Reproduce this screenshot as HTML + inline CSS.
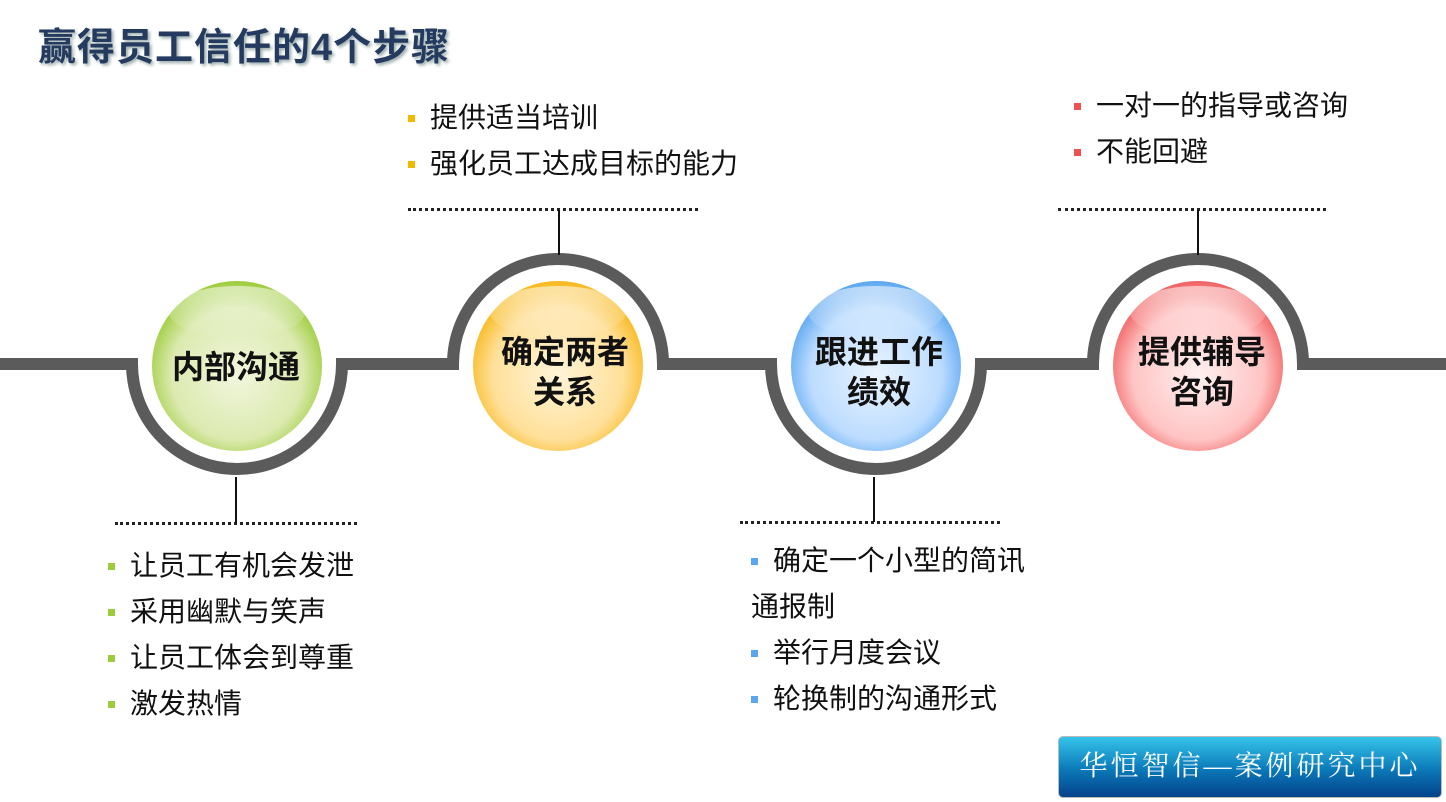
<!DOCTYPE html>
<html><head><meta charset="utf-8"><style>
body{margin:0;width:1446px;height:802px;background:#fff;position:relative;overflow:hidden;font-family:"Liberation Sans","Noto Sans CJK SC",sans-serif}
.t{position:absolute;left:38px;top:16px;font-size:38px;font-weight:bold;color:#243a5e;text-shadow:2px 2px 3px #9aa;letter-spacing:1px}
.l{position:absolute;font-size:28px;color:#111;line-height:46px}
.l div{position:relative;padding-left:22px;white-space:nowrap}
.l div:before{content:"";position:absolute;left:0;top:20px;width:7px;height:7px;background:var(--c)}
.l div.n:before{display:none}
.d{position:absolute;border-top:3px dotted #222;height:0}
.s{position:absolute;width:2px;background:#111}
.c{position:absolute;font-size:32px;font-weight:bold;color:#111;text-align:center;line-height:40px;width:180px}
.badge{position:absolute;left:1058px;top:736px;width:382px;height:60px;border-radius:5px;background:linear-gradient(#35c4ea,#0a78b8 55%,#05428a);border:1px solid #bbb;color:#fff;font-family:"Liberation Serif","Noto Serif CJK SC",serif;font-size:28px;text-align:center;line-height:60px;letter-spacing:3px}
</style></head><body>
<div class="t">赢得员工信任的4个步骤</div>
<svg width="1446" height="802" style="position:absolute;left:0;top:0">
<defs>
<radialGradient id="g" cx="50%" cy="55%" r="55%"><stop offset="0" stop-color="#f1f6dd"/><stop offset="0.7" stop-color="#dceab0"/><stop offset="1" stop-color="#9ccc3a"/></radialGradient>
<radialGradient id="o" cx="50%" cy="55%" r="55%"><stop offset="0" stop-color="#fff4d8"/><stop offset="0.7" stop-color="#ffe09a"/><stop offset="1" stop-color="#f7b81a"/></radialGradient>
<radialGradient id="b" cx="50%" cy="55%" r="55%"><stop offset="0" stop-color="#eaf4ff"/><stop offset="0.7" stop-color="#bcdcff"/><stop offset="1" stop-color="#5aa6f0"/></radialGradient>
<radialGradient id="r" cx="50%" cy="55%" r="55%"><stop offset="0" stop-color="#fff0f0"/><stop offset="0.7" stop-color="#ffc4c4"/><stop offset="1" stop-color="#f06060"/></radialGradient>
<linearGradient id="h" x1="0" y1="0" x2="0" y2="1"><stop offset="0" stop-color="#fff" stop-opacity=".9"/><stop offset="1" stop-color="#fff" stop-opacity="0"/></linearGradient>
</defs>
<path d="M0 364 H132 A105 105 0 0 0 342 364 H453 A105 105 0 0 1 663 364 H771 A105 105 0 0 0 981 364 H1093 A105 105 0 0 1 1303 364 H1446" fill="none" stroke="#5b5b5b" stroke-width="12"/>
<circle cx="237" cy="366" r="85" fill="url(#g)"/><ellipse cx="237" cy="312" rx="68" ry="26" fill="url(#h)" opacity=".6"/>
<circle cx="558" cy="366" r="85" fill="url(#o)"/><ellipse cx="558" cy="312" rx="68" ry="26" fill="url(#h)" opacity=".6"/>
<circle cx="876" cy="366" r="85" fill="url(#b)"/><ellipse cx="876" cy="312" rx="68" ry="26" fill="url(#h)" opacity=".6"/>
<circle cx="1198" cy="366" r="85" fill="url(#r)"/><ellipse cx="1198" cy="312" rx="68" ry="26" fill="url(#h)" opacity=".6"/>
</svg>
<div class="c" style="left:146px;top:347px">内部沟通</div>
<div class="c" style="left:475px;top:332px">确定两者<br>关系</div>
<div class="c" style="left:789px;top:332px">跟进工作<br>绩效</div>
<div class="c" style="left:1112px;top:332px">提供辅导<br>咨询</div>
<div class="d" style="left:408px;top:208px;width:290px"></div><div class="s" style="left:558px;top:210px;height:45px"></div>
<div class="d" style="left:1058px;top:208px;width:268px"></div><div class="s" style="left:1197px;top:210px;height:45px"></div>
<div class="d" style="left:115px;top:522px;width:242px"></div><div class="s" style="left:235px;top:477px;height:46px"></div>
<div class="d" style="left:740px;top:521px;width:260px"></div><div class="s" style="left:873px;top:477px;height:45px"></div>
<div class="l" style="left:408px;top:95px;--c:#f5b800"><div>提供适当培训</div><div>强化员工达成目标的能力</div></div>
<div class="l" style="left:1074px;top:83px;--c:#f05050"><div>一对一的指导或咨询</div><div>不能回避</div></div>
<div class="l" style="left:108px;top:543px;--c:#9ccc3a"><div>让员工有机会发泄</div><div>采用幽默与笑声</div><div>让员工体会到尊重</div><div>激发热情</div></div>
<div class="l" style="left:751px;top:538px;--c:#5aa6f0"><div>确定一个小型的简讯</div><div class="n" style="padding-left:0">通报制</div><div>举行月度会议</div><div>轮换制的沟通形式</div></div>
<div class="badge">华恒智信—案例研究中心</div>
</body></html>
